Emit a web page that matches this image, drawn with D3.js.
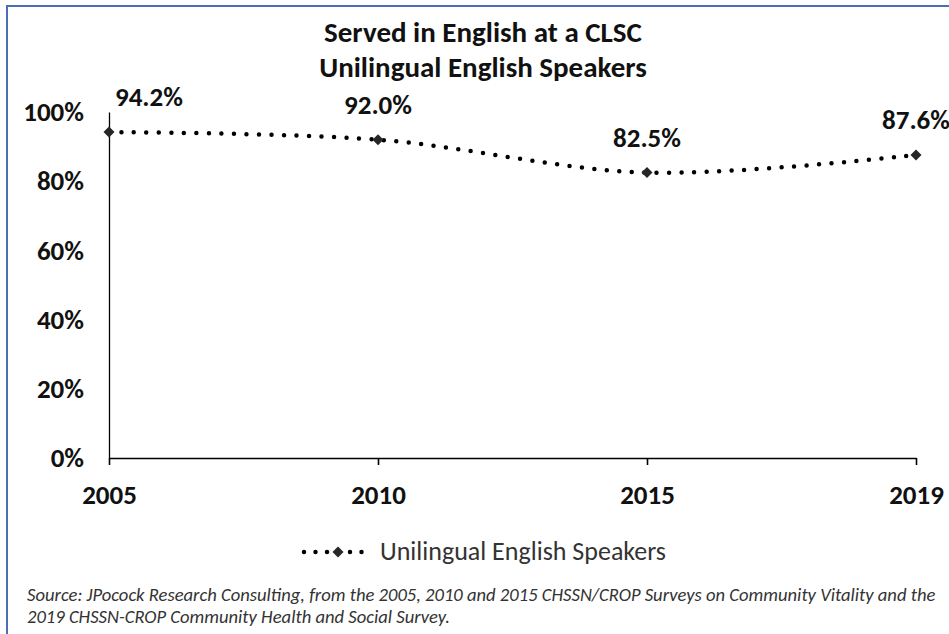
<!DOCTYPE html>
<html>
<head>
<meta charset="utf-8">
<script src="https://cdn.jsdelivr.net/npm/d3@7"></script>
<style>
  html, body { margin: 0; padding: 0; background: #fff; }
  svg { display: block; }
  text { font-family: Carlito, Calibri, Lato, "Open Sans", sans-serif; }
</style>
</head>
<body>
<svg id="chart" width="949" height="634"></svg>
<script>
// ---- data ----
const years = ["2005", "2010", "2015", "2019"];
const values = [94.2, 92.0, 82.5, 87.6];
const valueLabels = ["94.2%", "92.0%", "82.5%", "87.6%"];
const yTicks = [0, 20, 40, 60, 80, 100];
const titleLines = ["Served in English at a CLSC", "Unilingual English Speakers"];
const seriesName = "Unilingual English Speakers";
const sourceLines = [
  "Source: JPocock Research Consulting, from the 2005, 2010  and 2015  CHSSN/CROP Surveys on Community Vitality and the",
  "2019  CHSSN-CROP Community Health and Social Survey."
];

// ---- layout ----
const svg = d3.select("#chart");
const plot = { left: 109, right: 916, top: 112, bottom: 458 };
const FONT = "Carlito, Calibri, Lato, sans-serif";

// frame
svg.append("rect")
  .attr("x", 7).attr("y", 6).attr("width", 980).attr("height", 700)
  .attr("fill", "#fff").attr("stroke", "#4a6fb5").attr("stroke-width", 2);

// title
svg.append("g").selectAll("text").data(titleLines).join("text")
  .attr("x", 483).attr("y", (d, i) => 42 + i * 35)
  .attr("text-anchor", "middle")
  .attr("font-size", 29).attr("font-weight", "bold").attr("fill", "#111")
  .text(d => d);

const x = d3.scalePoint().domain(years).range([plot.left, plot.right]);
const y = d3.scaleLinear().domain([0, 100]).range([plot.bottom, plot.top]);

// y axis
const yAxis = svg.append("g")
  .attr("transform", `translate(${plot.left},0)`)
  .call(d3.axisLeft(y).tickValues(yTicks).tickSize(0).tickPadding(25).tickFormat(d => d + "%"));
yAxis.select(".domain").attr("stroke", "#000").attr("stroke-width", 1.3);
yAxis.selectAll("text").attr("font-size", 27).attr("font-weight", "bold").attr("fill", "#111")
  .attr("font-family", FONT);

// x axis
const xAxis = svg.append("g")
  .attr("transform", `translate(0,${plot.bottom})`)
  .call(d3.axisBottom(x).tickSizeInner(7).tickSizeOuter(0).tickPadding(20));
xAxis.select(".domain").attr("stroke", "#000").attr("stroke-width", 1.6);
xAxis.selectAll(".tick line").attr("stroke", "#000").attr("stroke-width", 1.6);
xAxis.selectAll("text").attr("font-size", 27).attr("font-weight", "bold").attr("fill", "#111")
  .attr("font-family", FONT);

// series line
const pts = years.map((yr, i) => [x(yr), y(values[i])]);
const line = d3.line().curve(d3.curveCardinal.tension(0));
svg.append("path")
  .attr("d", line(pts))
  .attr("fill", "none").attr("stroke", "#000")
  .attr("stroke-width", 4.5).attr("stroke-linecap", "round")
  .attr("stroke-dasharray", "0 12.5");

const diamond = r => `M0,${-r}L${r},0L0,${r}L${-r},0Z`;
svg.append("g").selectAll("path").data(pts).join("path")
  .attr("transform", d => `translate(${d[0]},${d[1]})`)
  .attr("d", diamond(5.5)).attr("fill", "#262626");

// data labels
svg.append("g").selectAll("text").data(pts).join("text")
  .attr("x", (d, i) => i === 0 ? d[0] + 6 : d[0])
  .attr("y", d => d[1] - 26)
  .attr("text-anchor", (d, i) => i === 0 ? "start" : "middle")
  .attr("font-size", 27).attr("font-weight", "bold").attr("fill", "#111")
  .text((d, i) => valueLabels[i]);

// legend
const lg = svg.append("g");
lg.append("line").attr("x1", 304).attr("x2", 373).attr("y1", 552).attr("y2", 552)
  .attr("stroke", "#000").attr("stroke-width", 4.5).attr("stroke-linecap", "round")
  .attr("stroke-dasharray", "0 11.5");
lg.append("path").attr("transform", "translate(338,552)").attr("d", diamond(5.5)).attr("fill", "#262626");
lg.append("text").attr("x", 380).attr("y", 560)
  .attr("font-size", 26).attr("fill", "#333").text(seriesName);

// source
svg.append("g").selectAll("text").data(sourceLines).join("text")
  .attr("x", 27).attr("y", (d, i) => 601 + i * 22)
  .attr("font-size", 18.6).attr("font-style", "italic").attr("fill", "#333")
  .text(d => d);
</script>
</body>
</html>
